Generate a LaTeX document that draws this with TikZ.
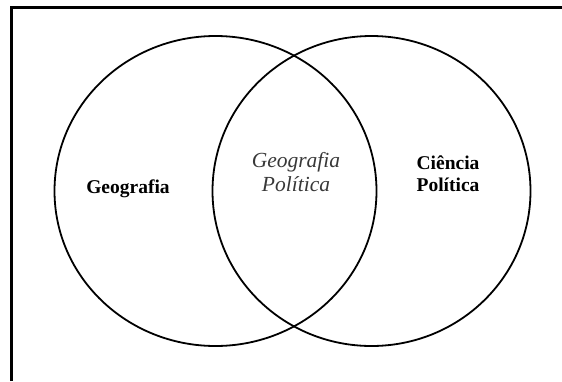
\documentclass[tikz,border=0pt]{standalone}
\usepackage{fontspec}
\setmainfont{Liberation Serif}
\begin{document}
\begin{tikzpicture}[x=1pt,y=-1pt,
  boldlabel/.style={font=\fontsize{19.5}{22}\selectfont\bfseries,align=center},
  itlabel/.style={font=\fontsize{21.5}{24}\selectfont\itshape,text=black!78,align=center}]
\useasboundingbox (0,0) rectangle (562,381);
\draw[line width=3pt] (11,381) -- (11,7.5) -- (562,7.5);
\draw[line width=1.8pt] (215.5,191) ellipse [x radius=161,y radius=155];
\draw[line width=1.8pt] (371.5,191) ellipse [x radius=159,y radius=155];
\node[boldlabel] (geo) at (128,189) {Geografia};
\node[itlabel] (gp) at (296,172) {Geografia\\Política};
\node[boldlabel] (cp) at (448,174) {Ciência\\Política};
\end{tikzpicture}
\end{document}
